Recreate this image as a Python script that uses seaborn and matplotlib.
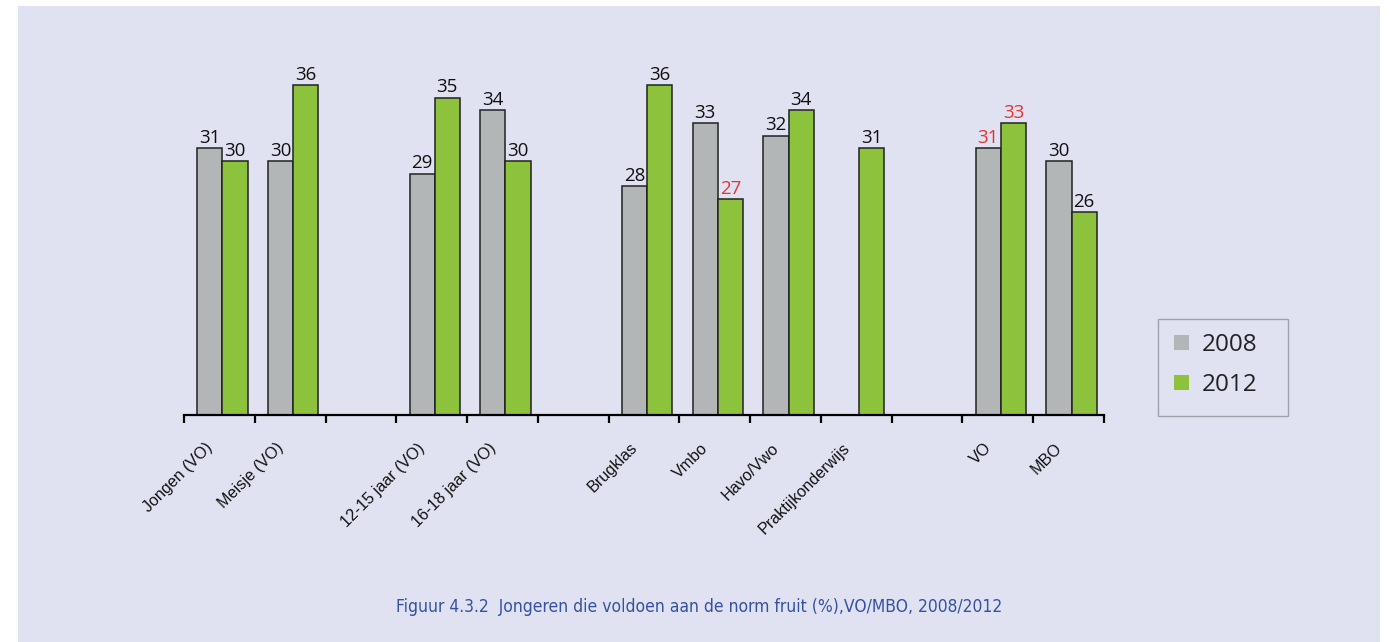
import matplotlib
matplotlib.use("Agg")
import matplotlib.pyplot as plt
from matplotlib.patches import Rectangle, Patch
from matplotlib import transforms
import seaborn as sns
import pandas as pd
import numpy as np

# Category slots along the x axis; blank slots separate the groups
categories = ["Jongen (VO)", "Meisje (VO)", " ",
              "12-15 jaar (VO)", "16-18 jaar (VO)", "  ",
              "Brugklas", "Vmbo", "Havo/Vwo", "Praktijkonderwijs", "   ",
              "VO", "MBO"]

# Percentage meeting the fruit norm, per category
labels_2008 = ["Jongen (VO)", "Meisje (VO)", "12-15 jaar (VO)", "16-18 jaar (VO)",
               "Brugklas", "Vmbo", "Havo/Vwo", "VO", "MBO"]
values_2008 = [31, 30, 29, 34, 28, 33, 32, 31, 30]

labels_2012 = ["Jongen (VO)", "Meisje (VO)", "12-15 jaar (VO)", "16-18 jaar (VO)",
               "Brugklas", "Vmbo", "Havo/Vwo", "Praktijkonderwijs", "VO", "MBO"]
values_2012 = [30, 36, 35, 30, 36, 27, 34, 31, 33, 26]

# Values printed in red (significant differences)
red_2008 = ["VO"]
red_2012 = ["Vmbo", "VO"]

years = ["2008", "2012"]
colors = {"2008": "#b3b6b7", "2012": "#8dc33c"}
panel_color = "#e0e2f1"
red = "#e8332f"

df = pd.concat([
    pd.DataFrame({"categorie": labels_2008, "waarde": values_2008, "jaar": "2008"}),
    pd.DataFrame({"categorie": labels_2012, "waarde": values_2012, "jaar": "2012"}),
], ignore_index=True)

sns.set_theme(style="white")
plt.rcParams["font.family"] = ["Liberation Sans", "DejaVu Sans"]

W, H = 1394, 642
fig = plt.figure(figsize=(W / 100, H / 100), dpi=100, facecolor="white")
fig.patches.append(Rectangle((18 / W, 0), (1380 - 18) / W, 636 / H,
                             transform=fig.transFigure, facecolor=panel_color,
                             edgecolor="none", zorder=-10))

ax = fig.add_axes([184 / W, 227 / H, (1104 - 184) / W, 367 / H])
ax.set_facecolor("none")
ax.set_zorder(2)

bar_width = 0.71
sns.barplot(data=df, x="categorie", y="waarde", hue="jaar", order=categories,
            hue_order=years, palette=colors, saturation=1, width=bar_width,
            dodge=True, edgecolor="#222222", linewidth=1.1, legend=False, ax=ax)

ax.set_xlim(-0.5, len(categories) - 0.5)
ax.set_ylim(10, 38.9)

# Bars sit slightly right of the slot centres
bar_shift = transforms.ScaledTranslation(3 / 100, 0, fig.dpi_scale_trans)
for p in ax.patches:
    p.set_transform(ax.transData + bar_shift)

# Value labels above the bars
offsets = {"2008": -bar_width / 4, "2012": bar_width / 4}
for lab_list, vals, yr, reds in [(labels_2008, values_2008, "2008", red_2008),
                                 (labels_2012, values_2012, "2012", red_2012)]:
    for lab, v in zip(lab_list, vals):
        xpos = categories.index(lab) + offsets[yr]
        ax.text(xpos, v + 0.1, f"{v}", ha="center", va="bottom",
                fontsize=13.5, family=["Open Sans", "DejaVu Sans"],
                color=red if lab in reds else "#111111",
                transform=ax.transData + bar_shift)

# Axis styling: only the bottom line with ticks at slot boundaries
for side in ["left", "right", "top"]:
    ax.spines[side].set_visible(False)
ax.spines["bottom"].set_color("black")
ax.spines["bottom"].set_linewidth(1.6)
ax.set_yticks([])
ax.set_xlabel("")
ax.set_ylabel("")

ax.set_xticks(np.arange(len(categories)))
ax.set_xticks(np.arange(len(categories) + 1) - 0.5, minor=True)
ax.tick_params(axis="x", which="major", length=0, pad=22)
ax.tick_params(axis="x", which="minor", length=6, width=1.6, color="black",
               direction="out", bottom=True)
ax.set_xticklabels([c.strip() for c in categories], rotation=45, ha="right",
                   va="center", rotation_mode="anchor", fontsize=11.6,
                   color="#111111")
shift = transforms.ScaledTranslation(-9 / 100, 0, fig.dpi_scale_trans)
for t in ax.get_xticklabels():
    t.set_transform(t.get_transform() + shift)

# Legend: frame box plus frameless entries
fig.patches.append(Rectangle((1158 / W, 1 - 416 / H), 130 / W, 97 / H,
                             transform=fig.transFigure, facecolor=panel_color,
                             edgecolor="#a0a2aa", linewidth=1.0, zorder=1))
handles = [Patch(facecolor=colors[y], edgecolor="none", label=y) for y in years]
leg = fig.legend(handles=handles, loc="upper left",
                 bbox_to_anchor=(1174 / W, 1 - 333 / H),
                 frameon=False,
                 prop={"family": ["Open Sans", "DejaVu Sans"], "size": 17.5},
                 handlelength=0.62, handleheight=0.62, handletextpad=0.53,
                 labelspacing=0.66, borderpad=0, borderaxespad=0)
leg.set_zorder(3)
for txt in leg.get_texts():
    txt.set_color("#222222")

fig.text(699 / W, 1 - 607 / H,
         "Figuur 4.3.2  Jongeren die voldoen aan de norm fruit (%),VO/MBO, 2008/2012",
         ha="center", va="center", fontsize=12.5, color="#3452a4",
         family=["DejaVu Sans"], fontstretch="condensed")

fig.savefig("out.png", dpi=100, facecolor="white")
